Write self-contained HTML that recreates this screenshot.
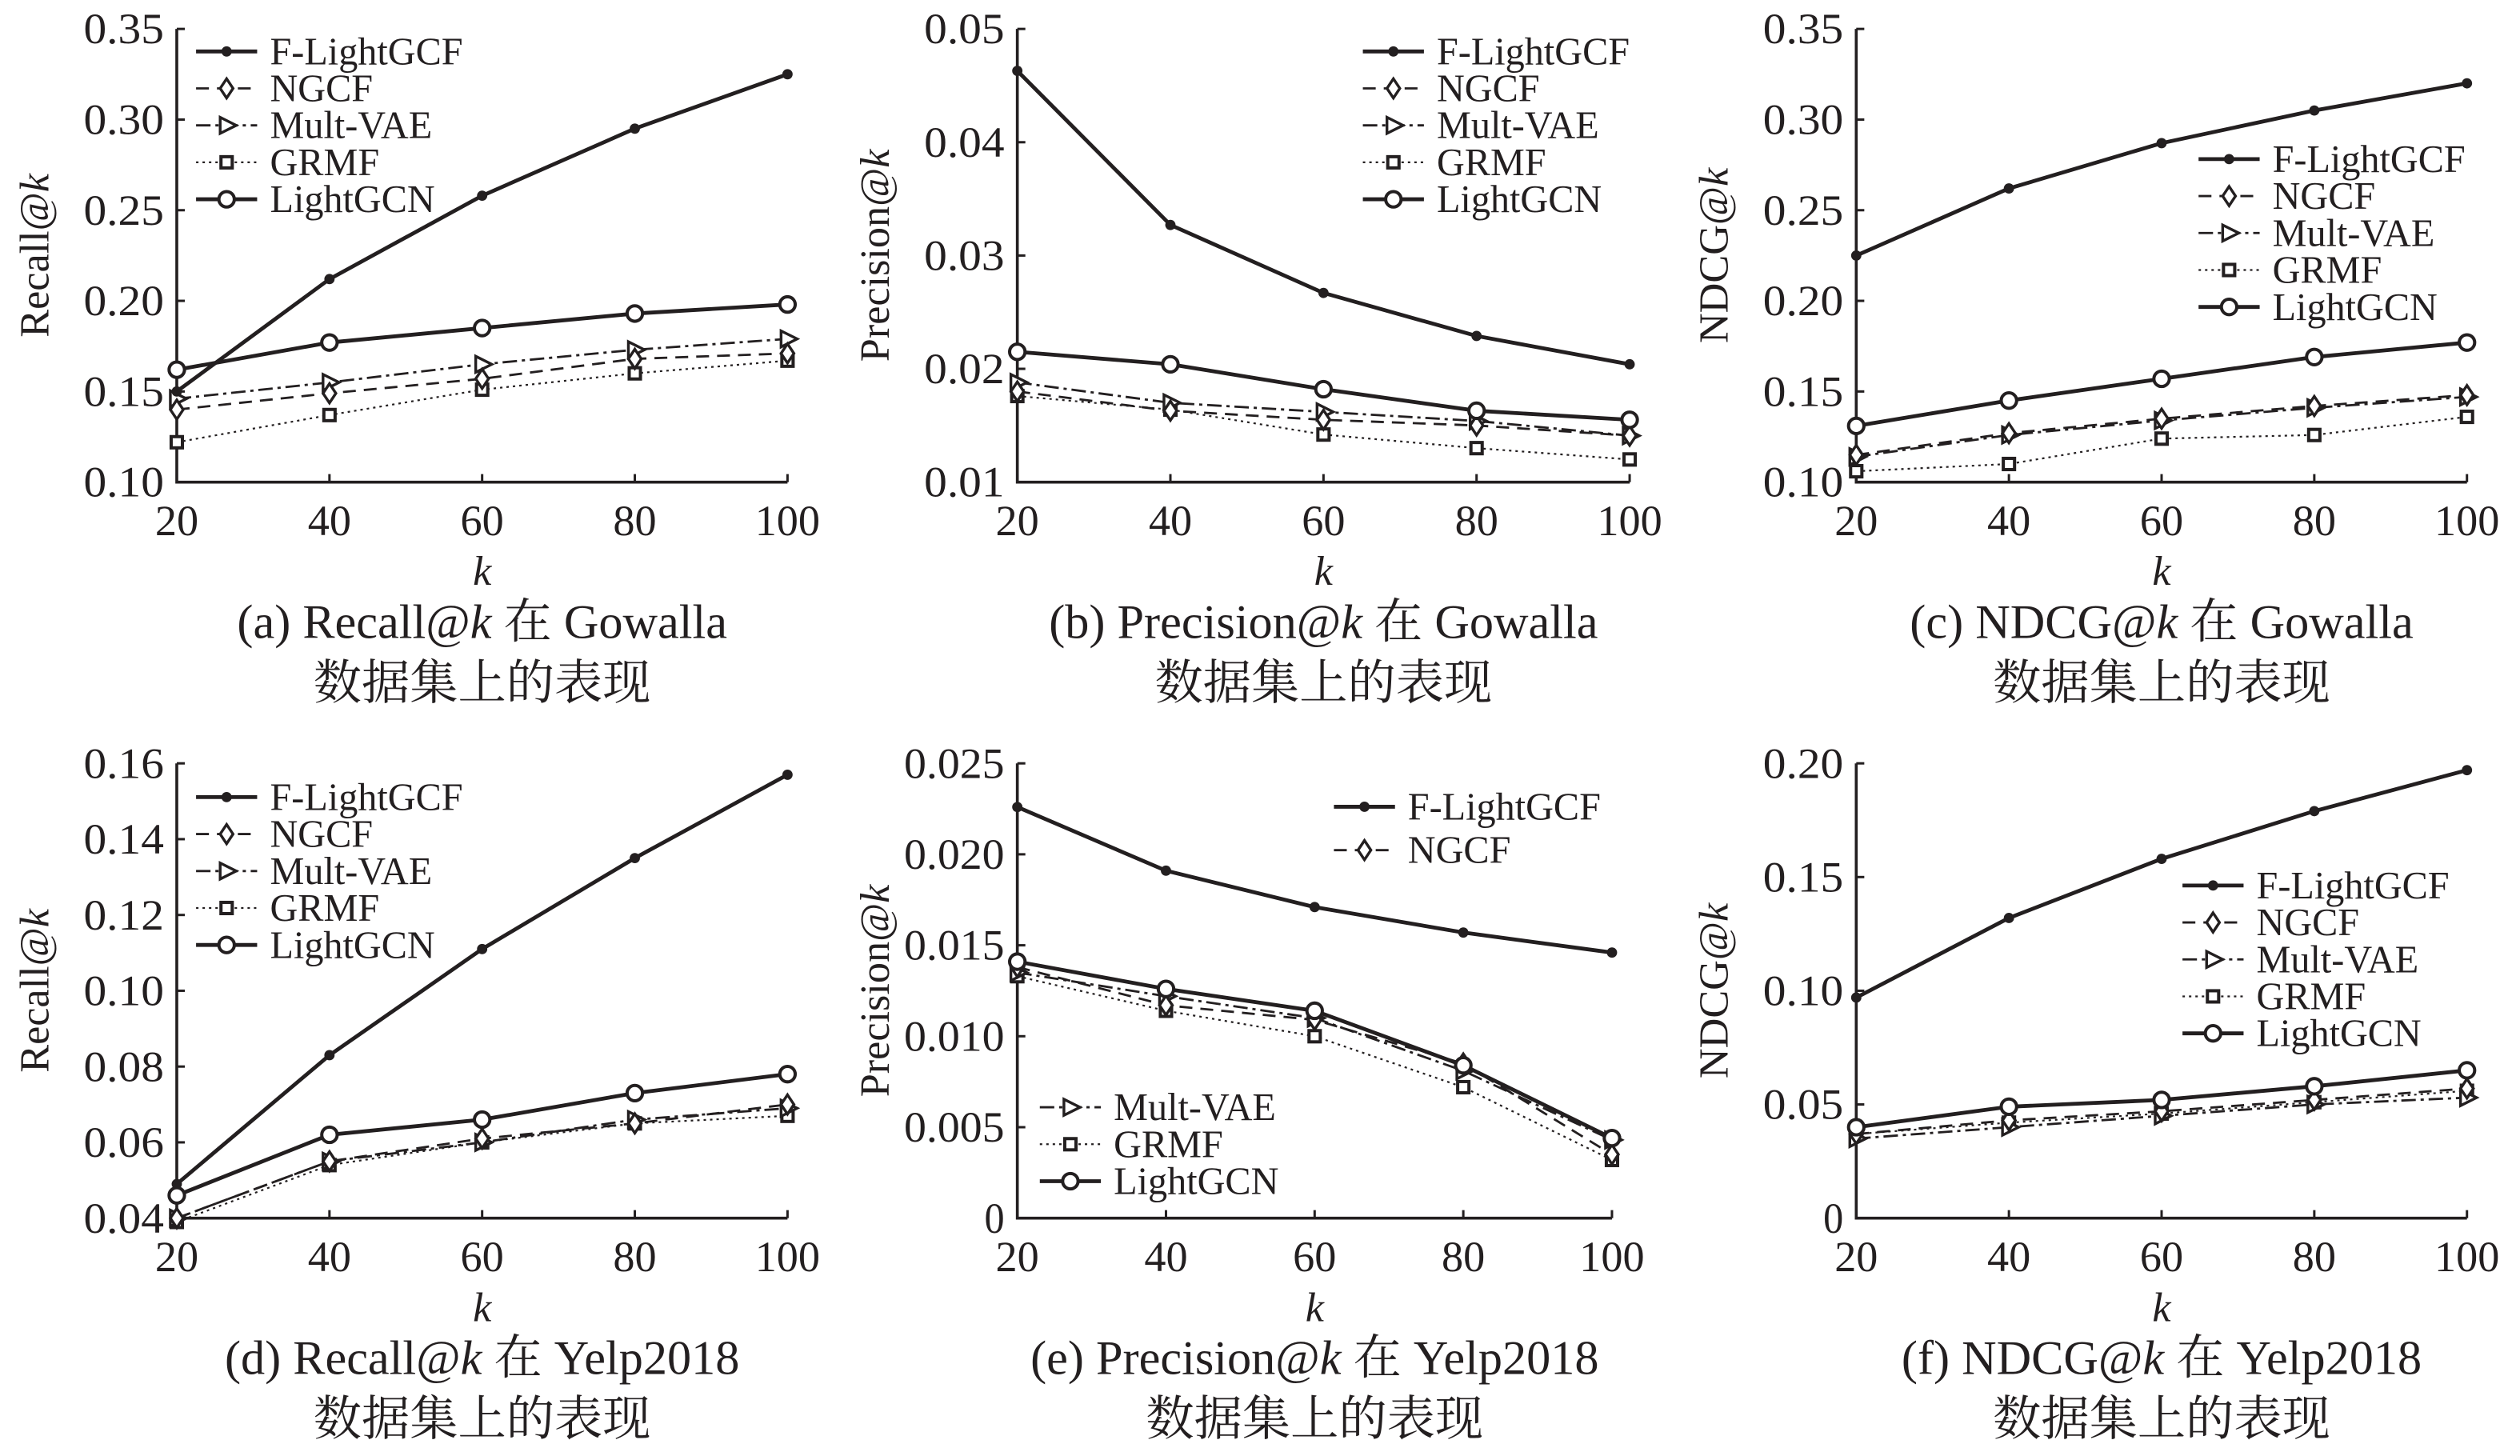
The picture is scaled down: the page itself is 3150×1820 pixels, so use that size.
<!DOCTYPE html>
<html><head><meta charset="utf-8">
<style>
html,body{margin:0;padding:0;background:#fff;}
svg{display:block;}
text{font-family:"Liberation Serif","Noto Serif CJK SC",serif;fill:#231f20;}
</style></head>
<body>
<svg id="fig" width="3150" height="1820" viewBox="0 0 1568 906" preserveAspectRatio="none" xmlns="http://www.w3.org/2000/svg"></svg>
<script>
const kValues = [20, 40, 60, 80, 100];
const seriesNames = ["F-LightGCF", "NGCF", "Mult-VAE", "GRMF", "LightGCN"];
// (a) Recall Gowalla
const aF = [0.150, 0.212, 0.258, 0.295, 0.325];
const aN = [0.140, 0.149, 0.157, 0.168, 0.171];
const aM = [0.146, 0.155, 0.165, 0.173, 0.179];
const aG = [0.122, 0.137, 0.151, 0.160, 0.167];
const aL = [0.162, 0.177, 0.185, 0.193, 0.198];
const aTicks = ["0.10", "0.15", "0.20", "0.25", "0.30", "0.35"];
// (b) Precision Gowalla
const bF = [0.0463, 0.0327, 0.0267, 0.0229, 0.0204];
const bN = [0.0180, 0.0163, 0.0155, 0.0150, 0.0141];
const bM = [0.0188, 0.0170, 0.0162, 0.0154, 0.0141];
const bG = [0.0176, 0.0164, 0.0142, 0.0130, 0.0120];
const bL = [0.0215, 0.0204, 0.0182, 0.0163, 0.0155];
const bTicks = ["0.01", "0.02", "0.03", "0.04", "0.05"];
// (c) NDCG Gowalla
const cF = [0.225, 0.262, 0.287, 0.305, 0.320];
const cN = [0.115, 0.127, 0.135, 0.142, 0.148];
const cM = [0.114, 0.126, 0.134, 0.141, 0.147];
const cG = [0.106, 0.110, 0.124, 0.126, 0.136];
const cL = [0.131, 0.145, 0.157, 0.169, 0.177];
const cTicks = ["0.10", "0.15", "0.20", "0.25", "0.30", "0.35"];
// (d) Recall Yelp
const dF = [0.049, 0.083, 0.111, 0.135, 0.157];
const dN = [0.040, 0.055, 0.061, 0.065, 0.070];
const dM = [0.040, 0.055, 0.060, 0.066, 0.069];
const dG = [0.039, 0.054, 0.060, 0.065, 0.067];
const dL = [0.046, 0.062, 0.066, 0.073, 0.078];
const dTicks = ["0.04", "0.06", "0.08", "0.10", "0.12", "0.14", "0.16"];
// (e) Precision Yelp
const eF = [0.0226, 0.0191, 0.0171, 0.0157, 0.0146];
const eN = [0.0138, 0.0117, 0.0109, 0.0085, 0.0035];
const eM = [0.0135, 0.0122, 0.0110, 0.0081, 0.0043];
const eG = [0.0133, 0.0114, 0.0100, 0.0072, 0.0032];
const eL = [0.0141, 0.0126, 0.0114, 0.0084, 0.0044];
const eTicks = ["0", "0.005", "0.010", "0.015", "0.020", "0.025"];
// (f) NDCG Yelp
const fF = [0.097, 0.132, 0.158, 0.179, 0.197];
const fN = [0.037, 0.043, 0.047, 0.052, 0.057];
const fM = [0.035, 0.040, 0.045, 0.050, 0.053];
const fG = [0.037, 0.042, 0.046, 0.051, 0.056];
const fL = [0.040, 0.049, 0.052, 0.058, 0.065];
const fTicks = ["0", "0.05", "0.10", "0.15", "0.20"];

const NS = "http://www.w3.org/2000/svg";
const svg = document.getElementById("fig");
function mk(tag, attrs, parent) {
  const e = document.createElementNS(NS, tag);
  for (const k in attrs) e.setAttribute(k, attrs[k]);
  (parent || svg).appendChild(e);
  return e;
}
const styles = [
  {dash: "", w: 2.4, m: "dot"},
  {dash: "8,5", w: 1.4, m: "diamond"},
  {dash: "9,3,2,3", w: 1.4, m: "tri"},
  {dash: "1.5,2.5", w: 1.1, m: "square"},
  {dash: "", w: 2.4, m: "circle"}
];
function marker(g, type, x, y) {
  let e;
  if (type === "dot") e = mk("circle", {cx: x, cy: y, r: 3.2, fill: "#231f20"}, g);
  else if (type === "circle") e = mk("circle", {cx: x, cy: y, r: 4.8, fill: "#fff", stroke: "#231f20", "stroke-width": 2}, g);
  else if (type === "diamond") e = mk("polygon", {points: `${x},${y-6} ${x+4},${y} ${x},${y+6} ${x-4},${y}`, fill: "#fff", stroke: "#231f20", "stroke-width": 1.7}, g);
  else if (type === "tri") e = mk("polygon", {points: `${x-4},${y-5} ${x+6},${y} ${x-4},${y+5}`, fill: "#fff", stroke: "#231f20", "stroke-width": 1.7}, g);
  else e = mk("rect", {x: x-3.5, y: y-3.5, width: 7, height: 7, fill: "#fff", stroke: "#231f20", "stroke-width": 2}, g);
  
  
}
function panel(p) {
  const g = mk("g", {});
  
  
  const yMin = parseFloat(p.ticks[0]), yMax = parseFloat(p.ticks[p.ticks.length-1]);
  const X = v => p.x0 + (v - kValues[0]) / (kValues[kValues.length-1] - kValues[0]) * (p.x1 - p.x0);
  const Y = v => p.yb - (v - yMin) / (yMax - yMin) * (p.yb - p.yt);
  const ax = mk("path", {d: `M${p.x0},${p.yt} L${p.x0},${p.yb} L${p.x1},${p.yb}`, fill: "none", stroke: "#231f20", "stroke-width": 1.8}, g);
  
  
  p.ticks.forEach(t => {
    const y = Y(parseFloat(t));
    mk("line", {x1: p.x0, x2: p.x0 + 5, y1: y, y2: y, stroke: "#231f20", "stroke-width": 1.5}, g);
    const tx = mk("text", {x: p.x0 - 8, y: y + 9, "text-anchor": "end", "font-size": 27, textLength: t.length * 12.5, lengthAdjust: "spacingAndGlyphs"}, g);
    tx.textContent = t;
    
    
  });
  kValues.forEach(k => {
    const x = X(k);
    mk("line", {x1: x, x2: x, y1: p.yb, y2: p.yb - 5, stroke: "#231f20", "stroke-width": 1.5}, g);
    const tx = mk("text", {x: x, y: p.yb + 33, "text-anchor": "middle", "font-size": 27}, g);
    tx.textContent = k;
    
    
  });
  const xl = mk("text", {x: (p.x0 + p.x1) / 2, y: p.yb + 64, "text-anchor": "middle", "font-size": 26, "font-style": "italic"}, g);
  xl.textContent = "k";
  
  
  const ycx = p.x0 - 80, ycy = (p.yt + p.yb) / 2;
  const yl = mk("text", {x: ycx, y: ycy, "text-anchor": "middle", "font-size": 26, transform: `rotate(-90 ${ycx} ${ycy})`}, g);
  yl.innerHTML = p.ylabel + '@<tspan font-style="italic">k</tspan>';
  
  
  const capx = (p.x0 + p.x1) / 2;
  const c1 = mk("text", {x: capx, y: p.yb + 97, "text-anchor": "middle", "font-size": 30}, g);
  c1.innerHTML = p.cap1 + '@<tspan font-style="italic">k</tspan> 在 ' + p.cap2;
  
  
  const c2 = mk("text", {x: capx, y: p.yb + 135, "text-anchor": "middle", "font-size": 30}, g);
  c2.textContent = "数据集上的表现";
  
  
  [3, 2, 1, 4, 0].forEach(i => {
    const data = p.series[i], st = styles[i];
    const sg = mk("g", {}, g);
    
    
    const d = data.map((v, j) => (j ? "L" : "M") + X(kValues[j]) + "," + Y(v)).join(" ");
    const pl = mk("path", {d: d, fill: "none", stroke: "#231f20", "stroke-width": st.w, "stroke-dasharray": st.dash}, sg);
    
    
    data.forEach((v, j) => marker(sg, st.m, X(kValues[j]), Y(v)));
  });
  p.legend.forEach(L => {
    L.items.forEach((i, n) => {
      const y = L.y + n * L.dy, st = styles[i];
      const lg = mk("g", {}, g);
      
      
      mk("line", {x1: L.x, x2: L.x + 38, y1: y, y2: y, stroke: "#231f20", "stroke-width": st.w, "stroke-dasharray": st.dash}, lg);
      marker(lg, st.m, L.x + 19, y);
      const t = mk("text", {x: L.x + 46, y: y + 8, "font-size": 24}, lg);
      t.textContent = seriesNames[i];
    });
  });
}
panel({id: "a", x0: 110, x1: 490, yt: 18, yb: 300, ticks: aTicks, series: [aF, aN, aM, aG, aL], ylabel: "Recall", cap1: "(a) Recall", cap2: "Gowalla",
  legend: [{x: 122, y: 32, dy: 23, items: [0, 1, 2, 3, 4]}]});
panel({id: "b", x0: 633, x1: 1014, yt: 18, yb: 300, ticks: bTicks, series: [bF, bN, bM, bG, bL], ylabel: "Precision", cap1: "(b) Precision", cap2: "Gowalla",
  legend: [{x: 848, y: 32, dy: 23, items: [0, 1, 2, 3, 4]}]});
panel({id: "c", x0: 1155, x1: 1535, yt: 18, yb: 300, ticks: cTicks, series: [cF, cN, cM, cG, cL], ylabel: "NDCG", cap1: "(c) NDCG", cap2: "Gowalla",
  legend: [{x: 1368, y: 99, dy: 23, items: [0, 1, 2, 3, 4]}]});
panel({id: "d", x0: 110, x1: 490, yt: 475, yb: 758, ticks: dTicks, series: [dF, dN, dM, dG, dL], ylabel: "Recall", cap1: "(d) Recall", cap2: "Yelp2018",
  legend: [{x: 122, y: 496, dy: 23, items: [0, 1, 2, 3, 4]}]});
panel({id: "e", x0: 633, x1: 1003, yt: 475, yb: 758, ticks: eTicks, series: [eF, eN, eM, eG, eL], ylabel: "Precision", cap1: "(e) Precision", cap2: "Yelp2018",
  legend: [{x: 830, y: 502, dy: 27, items: [0, 1]}, {x: 647, y: 689, dy: 23, items: [2, 3, 4]}]});
panel({id: "f", x0: 1155, x1: 1535, yt: 475, yb: 758, ticks: fTicks, series: [fF, fN, fM, fG, fL], ylabel: "NDCG", cap1: "(f) NDCG", cap2: "Yelp2018",
  legend: [{x: 1358, y: 551, dy: 23, items: [0, 1, 2, 3, 4]}]});
</script>
</body></html>
